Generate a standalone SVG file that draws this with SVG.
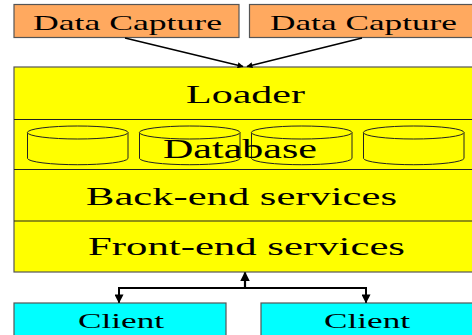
<svg xmlns="http://www.w3.org/2000/svg" width="472" height="335" viewBox="0 0 472 335">
<defs>
<style>
.t{font-family:"Liberation Serif","Times New Roman",serif;fill:#000}
.box{stroke:#555;stroke-width:1.2}
.div{stroke:#222;stroke-width:1.2}
.cyl{fill:#ffff00;stroke:#222;stroke-width:1}
.con{fill:none;stroke:#000}
</style>
<marker id="ah" viewBox="0 0 10 10" refX="9" refY="5" markerWidth="4" markerHeight="4" orient="auto" markerUnits="strokeWidth"><path d="M0,0 L10,5 L0,10 z" fill="#000"/></marker>
<marker id="ah2" viewBox="0 0 10 10" refX="9" refY="5" markerWidth="4.5" markerHeight="4.5" orient="auto" markerUnits="strokeWidth"><path d="M0,0 L10,5 L0,10 z" fill="#000"/></marker>
</defs>
<g id="capture1"><rect class="box" x="14" y="4.5" width="225" height="33" fill="#ffa95f"/><text class="t" x="33" y="29.5" font-size="22" textLength="189" lengthAdjust="spacingAndGlyphs">Data Capture</text></g>
<g id="capture2"><rect class="box" x="249.5" y="4.5" width="228" height="33" fill="#ffa95f"/><text class="t" x="270" y="29.5" font-size="22" textLength="187" lengthAdjust="spacingAndGlyphs">Data Capture</text></g>
<g id="main">
<rect class="box" x="14" y="67" width="464" height="205" fill="#ffff00"/>
<line class="div" x1="14" y1="119.5" x2="478" y2="119.5"/>
<line class="div" x1="14" y1="169.5" x2="478" y2="169.5"/>
<line class="div" x1="14" y1="221" x2="478" y2="221"/>
</g>
<g id="loader"><text class="t" x="186" y="103.3" font-size="26" textLength="119" lengthAdjust="spacingAndGlyphs">Loader</text></g>
<g id="database">
<g class="cyl">
<path d="M27.5,132.5 V158.5 A50.3,6.5 0 0 0 128,158.5 V132.5"/><ellipse cx="77.7" cy="132.5" rx="50.3" ry="6.5"/>
<path d="M139.5,132.5 V158.5 A50.3,6.5 0 0 0 240,158.5 V132.5"/><ellipse cx="189.7" cy="132.5" rx="50.3" ry="6.5"/>
<path d="M251.5,132.5 V158.5 A50.3,6.5 0 0 0 352,158.5 V132.5"/><ellipse cx="301.7" cy="132.5" rx="50.3" ry="6.5"/>
<path d="M363.5,132.5 V158.5 A50.3,6.5 0 0 0 464,158.5 V132.5"/><ellipse cx="413.7" cy="132.5" rx="50.3" ry="6.5"/>
</g>
<text class="t" x="163" y="158.3" font-size="27" textLength="154" lengthAdjust="spacingAndGlyphs">Database</text>
</g>
<g id="backend"><text class="t" x="86" y="205" font-size="26" textLength="311" lengthAdjust="spacingAndGlyphs">Back-end services</text></g>
<g id="frontend"><text class="t" x="88" y="255" font-size="26" textLength="317" lengthAdjust="spacingAndGlyphs">Front-end services</text></g>
<g id="client1"><rect class="box" x="14" y="303" width="212" height="40" fill="#00ffff"/><text class="t" x="78" y="328" font-size="22" textLength="86" lengthAdjust="spacingAndGlyphs">Client</text></g>
<g id="client2"><rect class="box" x="261" y="303" width="217" height="40" fill="#00ffff"/><text class="t" x="324" y="328" font-size="22" textLength="86" lengthAdjust="spacingAndGlyphs">Client</text></g>
<g id="connectors">
<line class="con" stroke-width="1.5" x1="125" y1="38" x2="243" y2="66.5" marker-end="url(#ah)"/>
<line class="con" stroke-width="1.5" x1="362" y1="38" x2="247" y2="66.5" marker-end="url(#ah)"/>
<line class="con" stroke-width="2.2" x1="245" y1="288" x2="245" y2="272.5" marker-end="url(#ah2)"/>
<polyline class="con" stroke-width="2" points="119,302.5 119,288 366,288 366,302.5"/>
<line class="con" stroke-width="2" x1="119" y1="292" x2="119" y2="302.5" marker-end="url(#ah2)"/>
<line class="con" stroke-width="2" x1="366" y1="292" x2="366" y2="302.5" marker-end="url(#ah2)"/>
</g>
</svg>
